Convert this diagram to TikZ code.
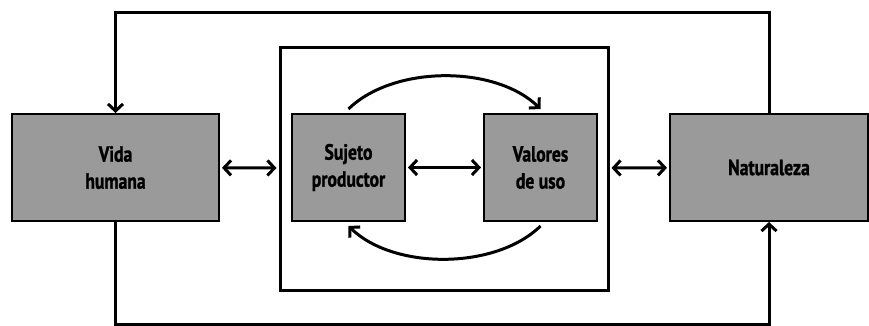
\documentclass[tikz,border=0pt]{standalone}
\usepackage{fontspec}
\newfontfamily\boxfont{PT Sans}[FakeStretch=0.8, BoldFeatures={FakeBold=1.2}]
\usetikzlibrary{arrows.meta}

\definecolor{boxgray}{HTML}{9A9A9A}

\begin{document}
\begin{tikzpicture}[
    x=1pt, y=-1pt,
    box/.style={
      draw, fill=boxgray, line width=2pt,
      minimum height=107pt, align=center,
      font=\boxfont\bfseries\fontsize{22}{27}\selectfont
    },
    frame/.style={
      draw, line width=3pt
    },
    link/.style={
      line width=3pt,
      -{Straight Barb[length=7pt,width=15pt]}
    },
    twoway/.style={
      link, {Straight Barb[length=7pt,width=15pt]}-{Straight Barb[length=7pt,width=15pt]},
      shorten >=2pt, shorten <=2pt
    }
    ]
  \useasboundingbox (0,0) rectangle (869,325);
  % outer boxes and inner frame
  \node[box, minimum width=207pt] (vida) at (115.5,167.5) {Vida\\humana};
  \node[frame, minimum width=328pt, minimum height=243pt] (marco) at (444,168.5) {};
  \node[box, minimum width=113pt] (sujeto) at (348.5,167.5) {Sujeto\\productor};
  \node[box, minimum width=113pt] (valores) at (540.5,167.5) {Valores\\de uso};
  \node[box, minimum width=198pt] (natura) at (769,167.5) {Naturaleza};

  % straight exchanges
  \draw[twoway] (vida) -- (marco);
  \draw[twoway] (sujeto) -- (valores);
  \draw[twoway] (marco) -- (natura);

  % cycle inside the frame
  \draw[link] ([yshift=4pt]sujeto.north) .. controls +(45,-44) and +(-45,-44) .. ([yshift=4pt]valores.north);
  \draw[link] ([yshift=-4pt]valores.south) .. controls +(-45,44) and +(45,44) .. ([yshift=-4pt]sujeto.south);

  % outer loop
  \draw[link] (natura.north) -- ++(0,-100.5) -| (vida.north);
  \draw[link] (vida.south) -- ++(0,102) -| (natura.south);
\end{tikzpicture}
\end{document}
